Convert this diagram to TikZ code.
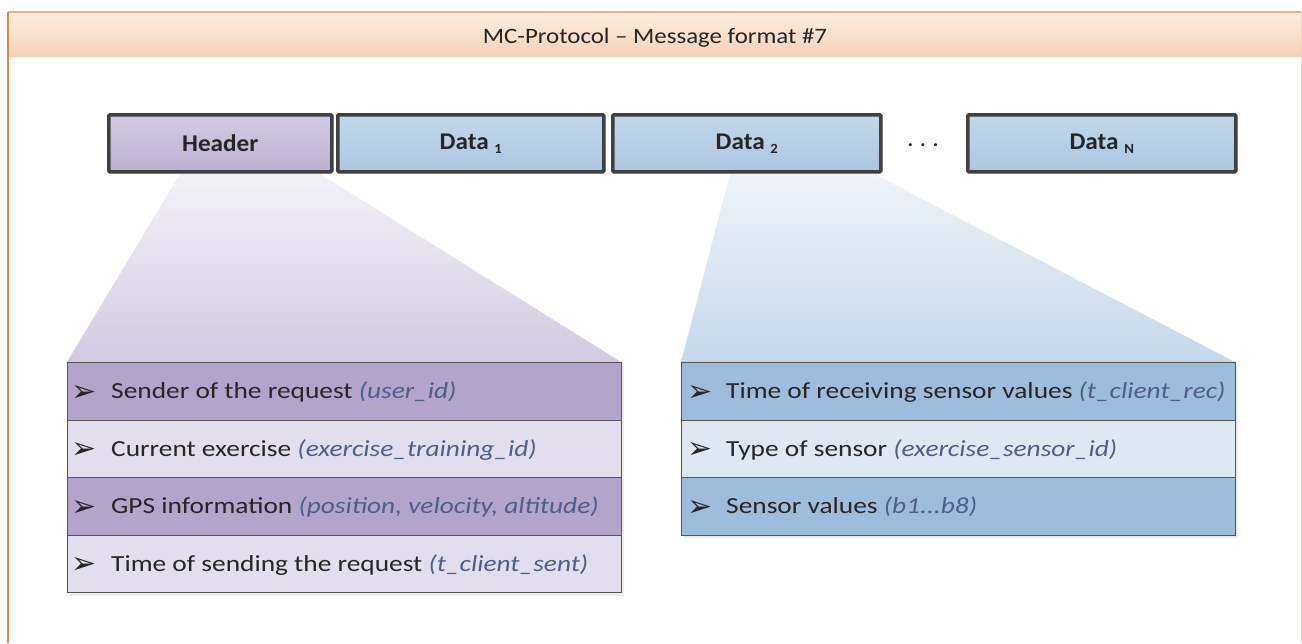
\documentclass[tikz,border=0pt]{standalone}
\usepackage{fontspec}
\setmainfont[FakeStretch=1.19]{Carlito}
\newfontfamily\plainfont[FakeStretch=1.05]{Carlito}
\newfontfamily\titlefont[FakeStretch=1.13]{Carlito}
\newfontfamily\symfont{DejaVu Sans}
\usetikzlibrary{shadows,calc}
\definecolor{bandtop}{HTML}{FDEEE3}
\definecolor{bandbot}{HTML}{F5D1B5}
\definecolor{bandline}{HTML}{E9AE83}
\definecolor{frameorange}{HTML}{D98A4C}
\definecolor{hdrtop}{HTML}{D3CBE3}
\definecolor{hdrbot}{HTML}{BCB0D2}
\definecolor{dattop}{HTML}{C4D7EA}
\definecolor{datbot}{HTML}{ABC7E0}
\definecolor{boxline}{HTML}{404040}
\definecolor{pdark}{HTML}{B2A4CB}
\definecolor{plight}{HTML}{E2DEED}
\definecolor{bdark}{HTML}{9EBDDC}
\definecolor{blight}{HTML}{DDE8F3}
\definecolor{rowline}{HTML}{555555}
\definecolor{paren}{HTML}{4F5E8A}
\definecolor{txt}{HTML}{262626}
\definecolor{ptraptop}{HTML}{F3F1F8}
\definecolor{ptrapbot}{HTML}{D2CAE1}
\definecolor{btraptop}{HTML}{EEF3F9}
\definecolor{btrapbot}{HTML}{C6D8EA}
\newcommand\bul{{\symfont\fontsize{30}{30}\selectfont ➢}}
\newcommand\itm[2]{#1 {\itshape\color{paren}#2}}
\newcommand\sub[1]{{\fontsize{14}{14}\selectfont\raisebox{-4pt}{#1}}}
\begin{document}
\begin{tikzpicture}[x=1pt,y=-1pt,
  fieldbox/.style={draw=boxline, line width=3.5pt, rounded corners=1pt, text=txt,
    minimum height=57pt, anchor=north west, font=\plainfont\bfseries\fontsize{24}{24}\selectfont,
    drop shadow={shadow xshift=2pt, shadow yshift=-2pt, opacity=0.18}},
  hdrfill/.style={top color=hdrtop, bottom color=hdrbot},
  datfill/.style={top color=dattop, bottom color=datbot},
  listrow/.style={draw=rowline, line width=1.2pt, minimum width=554pt,
    minimum height=57.5pt, anchor=north west},
  rowtext/.style={anchor=base west, font=\fontsize{23}{23}\selectfont, inner sep=0pt, text=txt},
  bultext/.style={anchor=base west, inner sep=0pt, text=txt}
]
\useasboundingbox (0,0) rectangle (1302,643);
\fill[white] (0,0) rectangle (1302,643);
% frame and title band
\shade[top color=bandtop, bottom color=bandbot] (8,12) rectangle (1301,57);
\draw[bandline, line width=1.2pt] (8,12) -- (1301,12);
\draw[white, line width=1pt] (8,57.5) -- (1301,57.5);
\draw[frameorange, line width=1.5pt] (8,12) -- (8,643);
\draw[bandbot, line width=1pt] (1301,12) -- (1301,643);
\node[font=\titlefont\fontsize{22}{22}\selectfont, text=txt, inner sep=0pt, anchor=base] (title) at (655,43) {MC-Protocol – Message format \#7};

% coordinates for the fan-outs
\coordinate (ht1) at (180,174);
\coordinate (ht2) at (320,174);
\coordinate (dt1) at (730,174);
\coordinate (dt2) at (874,174);

% fans (drawn first)
\shade[top color=ptraptop, bottom color=ptrapbot] (ht1) -- (ht2) -- (621,362) -- (67,362) -- cycle;
\shade[top color=btraptop, bottom color=btrapbot] (dt1) -- (dt2) -- (1235,362) -- (681,362) -- cycle;

% top fields
\node[fieldbox, hdrfill, minimum width=223pt] (hdr) at (107,113) {Header};
\node[fieldbox, datfill, minimum width=266pt] (d1) at (336,113) {Data \sub{1}};
\node[fieldbox, datfill, minimum width=268pt] (d2) at (611,113) {Data \sub{2}};
\node[fieldbox, datfill, minimum width=268pt] (dn) at (966,113) {Data \sub{N}};
\node[font=\plainfont\bfseries\fontsize{20}{20}\selectfont, text=txt] (dots) at (923,145) {.\hspace{7pt}.\hspace{7pt}.};

% left list
\node[listrow, fill=pdark, drop shadow={shadow xshift=2pt, shadow yshift=-3pt, opacity=0.15}, minimum height=230pt] (lshadow) at (67,362) {};
\node[listrow, fill=pdark] (L1) at (67,362) {};
\node[listrow, fill=plight] (L2) at (67,419.5) {};
\node[listrow, fill=pdark] (L3) at (67,477) {};
\node[listrow, fill=plight] (L4) at (67,534.5) {};
\foreach \r/\t in {L1/{\itm{Sender of the request}{(user\_id)}},
                   L2/{\itm{Current exercise}{(exercise\_training\_id)}},
                   L3/{\itm{GPS information}{(position, velocity, altitude)}},
                   L4/{\itm{Time of sending the request}{(t\_client\_sent)}}}{
  \node[bultext] at ($(\r.west)+(4,10)$) {\bul};
  \node[rowtext] at ($(\r.west)+(44,7.5)$) {\t};
}

% right list
\node[listrow, fill=bdark, drop shadow={shadow xshift=2pt, shadow yshift=-3pt, opacity=0.15}, minimum height=172.5pt] (rshadow) at (681,362) {};
\node[listrow, fill=bdark] (R1) at (681,362) {};
\node[listrow, fill=blight] (R2) at (681,419.5) {};
\node[listrow, fill=bdark] (R3) at (681,477) {};
\foreach \r/\t in {R1/{\itm{Time of receiving sensor values}{(t\_client\_rec)}},
                   R2/{\itm{Type of sensor}{(exercise\_sensor\_id)}},
                   R3/{\itm{Sensor values}{(b1...b8)}}}{
  \node[bultext] at ($(\r.west)+(6,10)$) {\bul};
  \node[rowtext] at ($(\r.west)+(45,7.5)$) {\t};
}
\end{tikzpicture}
\end{document}
